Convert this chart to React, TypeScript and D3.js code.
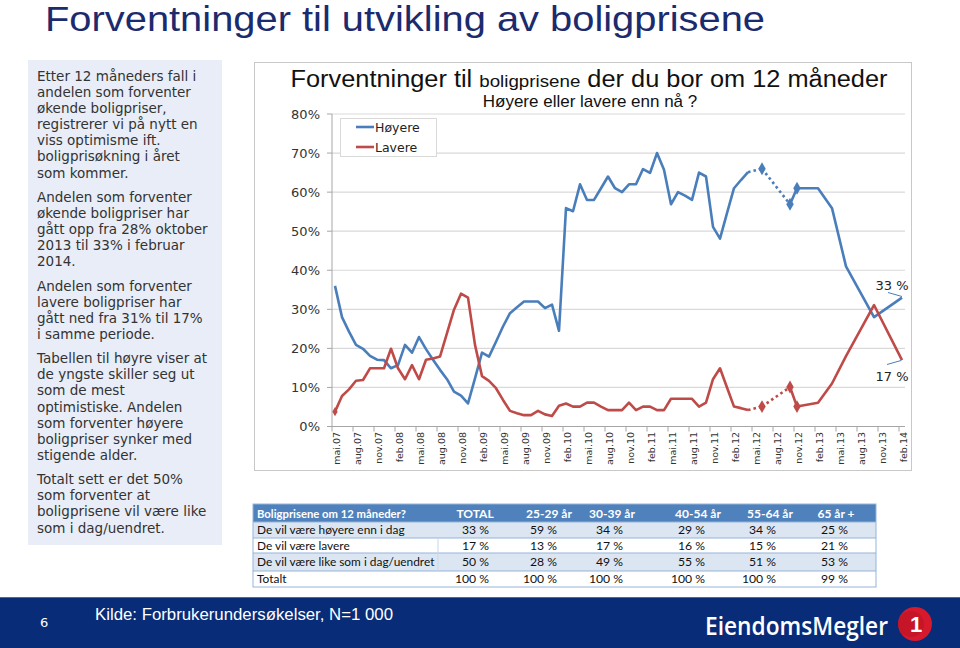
import React from "react";
import * as d3 from "d3";

const pageTitle = "Forventninger til utvikling av boligprisene";
const chartTitleParts = ["Forventninger til ", "boligprisene", " der du bor om 12 måneder"];
const chartSubtitle = "Høyere eller lavere enn nå ?";

const tickLabels = ["mai.07","aug.07","nov.07","feb.08","mai.08","aug.08","nov.08","feb.09","mai.09","aug.09","nov.09","feb.10","mai.10","aug.10","nov.10","feb.11","mai.11","aug.11","nov.11","feb.12","mai.12","aug.12","nov.12","feb.13","mai.13","aug.13","nov.13","feb.14"];
const yTickValues = [0, 10, 20, 30, 40, 50, 60, 70, 80];

// monthly values, index 0 = mai.07 ... 81 = feb.14 (null = no survey)
const hoyere: (number | null)[] = [
  36.0, 28.0, 24.3, 20.9, 19.9, 18.1, 17.1, 17.0, 14.9, 15.7,
  20.9, 18.9, 22.9, 19.8, 17.1, 14.5, 12.1, 8.9, 7.9, 5.9,
  12.3, 18.9, 17.9, 21.7, 25.6, 29.0, 30.5, 32.0, 32.0, 32.0,
  30.3, 31.2, 24.5, 55.9, 55.1, 62.0, 58.0, 58.0, 61.0, 64.0,
  61.0, 60.0, 62.0, 62.0, 65.9, 64.9, 70.0, 65.7, 56.9, 60.0,
  59.1, 58.0, 65.0, 64.0, 51.1, 48.1, 54.6, 61.0, 63.1, 65.1,
  null, 66.0, null, null, null, 56.9, 61.0, null, null, 61.0,
  null, 55.9, null, 41.0, null, null, null, 28.0, null, null,
  null, 33.0,
];
const lavere: (number | null)[] = [
  3.8, 7.8, 9.5, 11.7, 11.9, 14.9, 14.9, 14.9, 19.9, 14.9,
  12.1, 15.7, 12.1, 17.1, 17.4, 17.9, 23.9, 29.9, 34.0, 33.0,
  20.9, 12.9, 11.7, 9.8, 6.8, 4.0, 3.4, 2.9, 2.9, 4.0,
  3.1, 2.7, 5.3, 5.9, 5.1, 5.1, 6.1, 6.1, 5.1, 4.2,
  4.2, 4.2, 6.1, 4.2, 5.1, 5.1, 4.2, 4.2, 7.1, 7.1,
  7.1, 7.1, 5.1, 6.1, 12.1, 14.9, 10.0, 5.1, 4.7, 4.2,
  null, 5.1, null, null, null, 10.1, 5.1, null, null, 6.1,
  null, 11.0, null, 18.0, null, null, null, 31.1, null, null,
  null, 17.0,
];
const dottedGaps: [number, number][] = [[59, 61], [61, 65]];
const markerMonths = [61, 65, 66];
const seriesNames = ["Høyere", "Lavere"];
const endLabels = ["33 %", "17 %"];

const leftParagraphs = [
  ["Etter 12 måneders fall i", "andelen som forventer", "økende boligpriser,", "registrerer vi på nytt en", "viss optimisme ift.", "boligprisøkning i året", "som kommer."],
  ["Andelen som forventer", "økende boligpriser har", "gått opp fra 28% oktober", "2013 til 33% i februar", "2014."],
  ["Andelen som forventer", "lavere boligpriser har", "gått ned fra 31% til 17%", "i samme periode."],
  ["Tabellen til høyre viser at", "de yngste skiller seg ut", "som de mest", "optimistiske. Andelen", "som forventer høyere", "boligpriser synker med", "stigende alder."],
  ["Totalt sett er det 50%", "som forventer at", "boligprisene vil være like", "som i dag/uendret."],
];

const tableHeader = ["Boligprisene om 12 måneder?", "TOTAL", "25-29 år", "30-39 år", "40-54 år", "55-64 år", "65 år +"];
const rowLabels = ["De vil være høyere enn i dag", "De vil være lavere", "De vil være like som i dag/uendret", "Totalt"];
const rowTotal = [33, 17, 50, 100];
const row2529 = [59, 13, 28, 100];
const row3039 = [34, 17, 49, 100];
const row4054 = [29, 16, 55, 100];
const row5564 = [34, 15, 51, 100];
const row65 = [25, 21, 53, 99];

const sourceText = "Kilde: Forbrukerundersøkelser, N=1 000";
const pageNumber = "6";
const logoText = "EiendomsMegler";

const BLUE = "#4A7EBB";
const RED = "#BE4B48";

function buildSegments(vals: (number | null)[]) {
  const pts = vals.map((v, i) => ({ m: i, v })).filter((p) => p.v !== null) as { m: number; v: number }[];
  const solid: { m: number; v: number }[][] = [];
  const dotted: { m: number; v: number }[][] = [];
  let run: { m: number; v: number }[] = [pts[0]];
  for (let i = 1; i < pts.length; i++) {
    const a = pts[i - 1], b = pts[i];
    const isDot = dottedGaps.some(([f, t]) => f === a.m && t === b.m);
    if (isDot) {
      if (run.length > 1) solid.push(run);
      dotted.push([a, b]);
      run = [b];
    } else run.push(b);
  }
  if (run.length > 1) solid.push(run);
  return { solid, dotted, pts };
}

export default function App() {
  const x = d3.scaleLinear().domain([0, 81]).range([335, 902]);
  const y = d3.scaleLinear().domain([0, 80]).range([426.5, 114]);
  const line = d3.line<{ m: number; v: number }>().x((d) => x(d.m)).y((d) => y(d.v));
  const plotLeft = 332, plotRight = 905;

  const series = [
    { vals: hoyere, color: BLUE },
    { vals: lavere, color: RED },
  ];

  const diamond = d3.symbol().type(d3.symbolDiamond).size(48)();
  const smallDiamond = d3.symbol().type(d3.symbolDiamond).size(24)();

  const textLines: { t: string; yy: number }[] = [];
  let yy = 80.7;
  leftParagraphs.forEach((p, pi) => {
    if (pi > 0) yy += 8;
    p.forEach((t) => {
      textLines.push({ t, yy });
      yy += 16.15;
    });
  });

  const cols = [rowTotal, row2529, row3039, row4054, row5564, row65];
  const headerCenters = [475, 549, 612, 698, 770, 836];
  const valueRights = [489, 557, 623, 705, 776, 848];
  const rowEdges = [504, 522, 538, 553, 571, 587];
  const tLeft = 253, tRight = 876;

  return (
    <svg width={960} height={648} style={{ position: "absolute", left: 0, top: 0, background: "#fff" }}>
      <rect x={0} y={0} width={960} height={648} fill="#fff" />
      <text x={45} y={31} fontFamily="Liberation Sans, Arial, sans-serif" fontSize={35} fill="#1B2B6E" textLength={720} lengthAdjust="spacingAndGlyphs">
        {pageTitle}
      </text>

      {/* left text box */}
      <rect x={28} y={60} width={194} height={485} fill="#E8EDF7" />
      {textLines.map((l, i) => (
        <text key={i} x={37} y={l.yy} fontFamily="DejaVu Sans, Verdana, sans-serif" fontSize={13.5} fill="#333">
          {l.t}
        </text>
      ))}

      {/* chart frame */}
      <rect x={254.5} y={62.5} width={657} height={408} fill="#fff" stroke="#C8C8C8" />
      <text x={589} y={87} textAnchor="middle" fontFamily="Liberation Sans, Arial, sans-serif" fill="#111" textLength={597} lengthAdjust="spacingAndGlyphs">
        <tspan fontSize={23}>{chartTitleParts[0]}</tspan>
        <tspan fontSize={17}>{chartTitleParts[1]}</tspan>
        <tspan fontSize={23}>{chartTitleParts[2]}</tspan>
      </text>
      <text x={590} y={107} textAnchor="middle" fontFamily="Liberation Sans, Arial, sans-serif" fontSize={17} fill="#111">
        {chartSubtitle}
      </text>

      {yTickValues.map((v) => (
        <g key={v}>
          {v > 0 && <line x1={plotLeft} x2={plotRight} y1={y(v)} y2={y(v)} stroke="#D9D9D9" strokeWidth={1.2} />}
          <line x1={plotLeft - 5} x2={plotLeft} y1={y(v)} y2={y(v)} stroke="#A6A6A6" />
          <text x={320} y={y(v) + 4.5} textAnchor="end" fontFamily="DejaVu Sans, Verdana, sans-serif" fontSize={13} fill="#333">
            {v}%
          </text>
        </g>
      ))}
      <line x1={plotLeft} x2={plotLeft} y1={y(80)} y2={y(0)} stroke="#A6A6A6" />
      <line x1={plotLeft} x2={plotRight} y1={y(0)} y2={y(0)} stroke="#A6A6A6" />
      {tickLabels.map((lab, k) => (
        <g key={lab}>
          <line x1={x(3 * k) - 3} x2={x(3 * k) - 3} y1={y(0)} y2={y(0) + 5} stroke="#A6A6A6" />
          <text transform={`translate(${x(3 * k) + 2},432) rotate(-90)`} dy="0.35em" textAnchor="end" fontFamily="DejaVu Sans, Verdana, sans-serif" fontSize={9.5} fill="#333">
            {lab}
          </text>
        </g>
      ))}

      {series.map((s, si) => {
        const { solid, dotted } = buildSegments(s.vals);
        return (
          <g key={si}>
            {solid.map((seg, i) => (
              <path key={"s" + i} d={line(seg) || ""} fill="none" stroke={s.color} strokeWidth={2.6} strokeLinejoin="round" />
            ))}
            {dotted.map((seg, i) => (
              <path key={"d" + i} d={line(seg) || ""} fill="none" stroke={s.color} strokeWidth={2.6} strokeDasharray="2.6 3" />
            ))}
            {markerMonths.map((m) =>
              s.vals[m] !== null ? (
                <path key={"m" + m} d={diamond || ""} transform={`translate(${x(m)},${y(s.vals[m] as number)})`} fill={s.color} />
              ) : null
            )}
            {si === 1 && (
              <path d={smallDiamond || ""} transform={`translate(${x(0)},${y(s.vals[0] as number)})`} fill={s.color} />
            )}
          </g>
        );
      })}

      <text x={892} y={290} textAnchor="middle" fontFamily="DejaVu Sans, Verdana, sans-serif" fontSize={13} fill="#222">{endLabels[0]}</text>
      <line x1={888} y1={292.5} x2={902} y2={296.5} stroke={BLUE} strokeWidth={1} />
      <text x={892} y={381} textAnchor="middle" fontFamily="DejaVu Sans, Verdana, sans-serif" fontSize={13} fill="#222">{endLabels[1]}</text>
      <line x1={887} y1={364.5} x2={901} y2={360.5} stroke={BLUE} strokeWidth={1} />

      <rect x={340.5} y={118.5} width={96} height={38} fill="#fff" stroke="#D9D9D9" />
      {seriesNames.map((n, i) => (
        <g key={n}>
          <line x1={356} x2={374} y1={127 + 20 * i} y2={127 + 20 * i} stroke={i === 0 ? BLUE : RED} strokeWidth={2.6} />
          <text x={375} y={131.5 + 20 * i} fontFamily="DejaVu Sans, Verdana, sans-serif" fontSize={12.5} fill="#222">{n}</text>
        </g>
      ))}

      {/* table */}
      <rect x={tLeft} y={rowEdges[0]} width={tRight - tLeft} height={rowEdges[1] - rowEdges[0]} fill="#4F81BD" />
      {rowLabels.map((r, i) => (
        <rect key={"bg" + i} x={tLeft} y={rowEdges[i + 1]} width={tRight - tLeft} height={rowEdges[i + 2] - rowEdges[i + 1]} fill={i % 2 === 0 ? "#DCE6F2" : "#FFFFFF"} />
      ))}
      {rowLabels.map((r, i) => (
        <line key={"hl" + i} x1={tLeft} x2={tRight} y1={rowEdges[i + 1]} y2={rowEdges[i + 1]} stroke="#95B3D7" strokeWidth={1} />
      ))}
      <line x1={438} x2={438} y1={rowEdges[2]} y2={rowEdges[4]} stroke="#C9D6EA" />
      <rect x={tLeft} y={rowEdges[0]} width={tRight - tLeft} height={rowEdges[5] - rowEdges[0]} fill="none" stroke="#95B3D7" />
      <text x={257} y={517.5} fontFamily="Lato, Calibri, sans-serif" fontWeight="bold" fontSize={12} fill="#fff" textLength={149} lengthAdjust="spacingAndGlyphs">{tableHeader[0]}</text>
      {tableHeader.slice(1).map((h, j) => (
        <text key={h} x={headerCenters[j]} y={517.5} textAnchor="middle" fontFamily="Lato, Calibri, sans-serif" fontWeight="bold" fontSize={12} fill="#fff">{h}</text>
      ))}
      {rowLabels.map((r, i) => {
        const cy = (rowEdges[i + 1] + rowEdges[i + 2]) / 2 + 4.3;
        return (
          <g key={"row" + i}>
            <text x={257} y={cy} fontFamily="Lato, Calibri, sans-serif" fontSize={11.9} fill="#111">{r}</text>
            {cols.map((c, j) => (
              <text key={j} x={valueRights[j]} y={cy} textAnchor="end" fontFamily="Lato, Calibri, sans-serif" fontSize={12.2} fill="#111">{c[i]} %</text>
            ))}
          </g>
        );
      })}

      {/* footer */}
      <rect x={0} y={597} width={960} height={51} fill="#082C78" />
      <line x1={0} x2={960} y1={597.5} y2={597.5} stroke="#4A68A8" />
      <text x={40} y={627} fontFamily="DejaVu Sans, Verdana, sans-serif" fontSize={13} fill="#fff">{pageNumber}</text>
      <text x={95} y={620} fontFamily="Liberation Sans, Arial, sans-serif" fontSize={16} fill="#fff" textLength={298} lengthAdjust="spacingAndGlyphs">{sourceText}</text>
      <text x={705} y={635} fontFamily="Open Sans, Liberation Sans, Arial, sans-serif" fontWeight={600} fontSize={25} fill="#fff" textLength={183} lengthAdjust="spacingAndGlyphs">{logoText}</text>
      <circle cx={915} cy={624} r={17} fill="#D7192D" />
      <circle cx={911} cy={624} r={13} fill="#B5121F" opacity={0.5} />
      <text x={916} y={632} textAnchor="middle" fontFamily="Liberation Sans, Arial, sans-serif" fontWeight="bold" fontSize={22} fill="#fff">1</text>
    </svg>
  );
}
